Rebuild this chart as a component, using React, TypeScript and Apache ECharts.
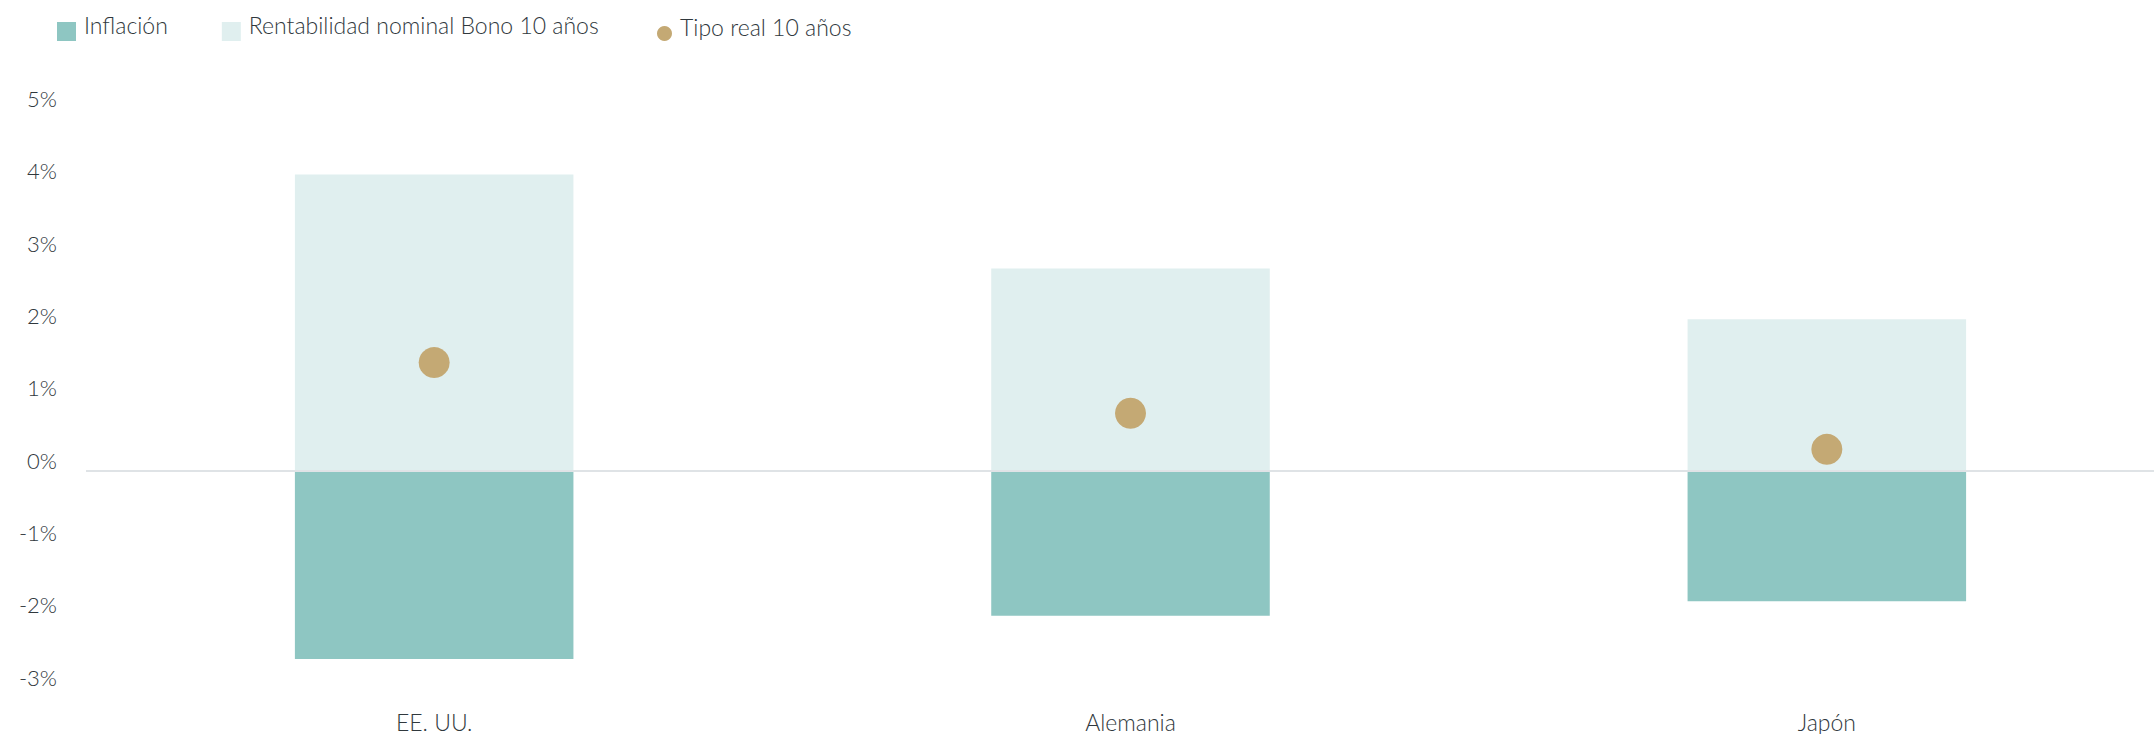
import React, { useEffect, useRef } from "react";
import * as echarts from "echarts";

// Countries shown on the category axis
const categories: string[] = ["EE. UU.", "Alemania", "Japón"];
// Inflation (shown as negative bars)
const inflacion: number[] = [-2.6, -2.0, -1.8];
// Nominal 10-year bond yield
const nominal: number[] = [4.1, 2.8, 2.1];
// Real 10-year rate
const tipoReal: number[] = [1.5, 0.8, 0.3];

const seriesNames = ["Inflación", "Rentabilidad nominal Bono 10 años", "Tipo real 10 años"];

const FONT = "Lato, 'Noto Sans', sans-serif";
const TEXT = "#30383d";
const WEIGHT = 300;

export default function App() {
  const ref = useRef<HTMLDivElement>(null);

  useEffect(() => {
    if (!ref.current) return;
    const chart = echarts.init(ref.current, undefined, { renderer: "svg" });
    // legend labels sit a little above the icon centre
    const legendText = {
      fontFamily: FONT,
      fontWeight: WEIGHT,
      fontSize: 23,
      color: TEXT,
      rich: {
        t: {
          fontFamily: FONT,
          fontWeight: WEIGHT,
          fontSize: 23,
          color: TEXT,
          padding: [0, 0, 14, 3],
        },
      },
    };
    const legendFormatter = (name: string) => `{t|${name}}`;
    chart.setOption({
      animation: false,
      backgroundColor: "#ffffff",
      textStyle: { fontFamily: FONT, fontWeight: WEIGHT },
      legend: [
        {
          data: [seriesNames[0], seriesNames[1]],
          left: 52,
          top: 8,
          itemWidth: 19,
          itemHeight: 19,
          itemGap: 54,
          icon: "rect",
          selectedMode: false,
          formatter: legendFormatter,
          textStyle: legendText,
        },
        {
          data: [seriesNames[2]],
          left: 652,
          top: 10,
          itemWidth: 15,
          itemHeight: 15,
          icon: "circle",
          selectedMode: false,
          formatter: legendFormatter,
          textStyle: legendText,
        },
      ],
      grid: {
        left: 86,
        right: -21,
        top: 109.5,
        bottom: 46,
        outerBoundsMode: "none",
      },
      xAxis: {
        type: "category",
        data: categories,
        axisLine: { show: false, onZero: false },
        axisTick: { show: false },
        axisLabel: { fontFamily: FONT, fontWeight: WEIGHT, fontSize: 23, color: TEXT, margin: 22 },
      },
      yAxis: {
        type: "value",
        min: -3,
        max: 5,
        interval: 1,
        splitLine: { show: false },
        axisLine: { show: false },
        axisTick: { show: false },
        axisLabel: {
          formatter: (v: number) => `${v}%`,
          fontFamily: FONT,
          fontWeight: WEIGHT,
          fontSize: 22,
          color: TEXT,
          margin: 29,
          verticalAlign: "bottom",
          lineHeight: 22,
        },
      },
      series: [
        {
          name: seriesNames[1],
          type: "bar",
          data: nominal,
          barWidth: "40%",
          barGap: "-100%",
          itemStyle: { color: "#e0efef" },
          z: 2,
        },
        {
          name: seriesNames[0],
          type: "bar",
          data: inflacion,
          barWidth: "40%",
          barGap: "-100%",
          itemStyle: { color: "#8ec6c2" },
          z: 2,
        },
        {
          name: seriesNames[2],
          type: "scatter",
          data: tipoReal,
          symbol: "circle",
          symbolSize: 31,
          itemStyle: { color: "#c4a974", opacity: 1 },
          z: 5,
          markLine: {
            silent: true,
            symbol: "none",
            label: { show: false },
            lineStyle: { color: "#dfe3e6", width: 2, type: "solid" },
            data: [{ yAxis: 0 }],
            z: 3,
          },
        },
      ],
    });
    return () => chart.dispose();
  }, []);

  return (
    <div
      ref={ref}
      style={{ position: "fixed", left: 0, top: 0, width: 2154, height: 734 }}
    />
  );
}
